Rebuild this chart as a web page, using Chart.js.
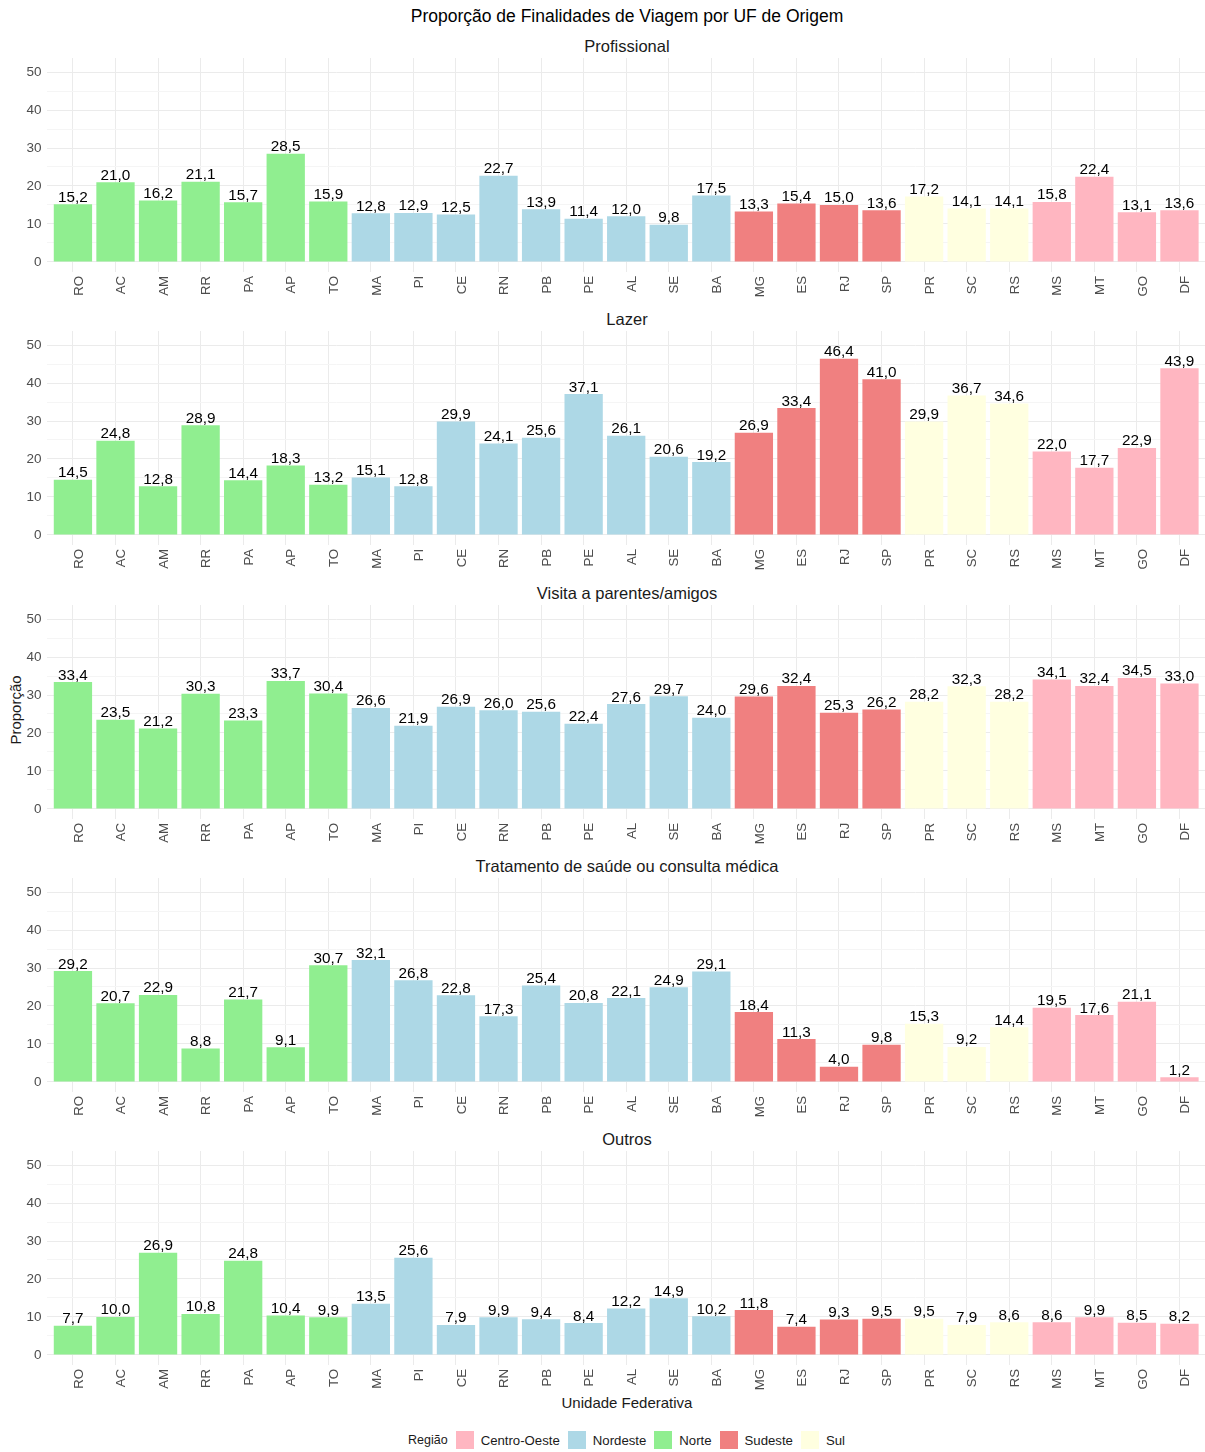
<!DOCTYPE html>
<html>
<head>
<meta charset="utf-8">
<script src="https://cdn.jsdelivr.net/npm/chart.js@4"></script>
<style>
  body { margin: 0; background: #fff; font-family: "Liberation Sans", Arial, sans-serif; }
  #page { position: relative; width: 1205px; height: 1452px; overflow: hidden; }
  .panel { position: absolute; left: 0; width: 1205px; height: 273px; }
  .txt { position: absolute; white-space: nowrap; color: #1a1a1a; }
  .center { transform: translate(-50%, -50%); }
  #legend { position: absolute; top: 1431px; left: 408px; display: flex; align-items: center; font-size: 13.2px; color: #1a1a1a; }
  #legend .key { width: 18px; height: 18px; margin: 0 7px 0 8px; }
</style>
</head>
<body>
<div id="page">
  <div class="txt center" style="left:627px;top:16px;font-size:17.5px;color:#000">Proporção de Finalidades de Viagem por UF de Origem</div>
  <div class="txt center" style="left:15px;top:710px;font-size:15px;transform:translate(-50%,-50%) rotate(-90deg)">Proporção</div>
  <div class="txt center" style="left:627px;top:1402px;font-size:15px">Unidade Federativa</div>
  <div id="legend"></div>
</div>
<script>
const ufs = ["RO", "AC", "AM", "RR", "PA", "AP", "TO", "MA", "PI", "CE", "RN", "PB", "PE", "AL", "SE", "BA",
             "MG", "ES", "RJ", "SP", "PR", "SC", "RS", "MS", "MT", "GO", "DF"];
const regiaoUf = ["Norte", "Norte", "Norte", "Norte", "Norte", "Norte", "Norte",
                  "Nordeste", "Nordeste", "Nordeste", "Nordeste", "Nordeste", "Nordeste", "Nordeste", "Nordeste", "Nordeste",
                  "Sudeste", "Sudeste", "Sudeste", "Sudeste",
                  "Sul", "Sul", "Sul",
                  "Centro-Oeste", "Centro-Oeste", "Centro-Oeste", "Centro-Oeste"];
const regioes = ["Centro-Oeste", "Nordeste", "Norte", "Sudeste", "Sul"];
const regiaoCores = ["#FFB6C1", "#ADD8E6", "#90EE90", "#F08080", "#FFFFE0"];

const finalidades = ["Profissional", "Lazer", "Visita a parentes/amigos", "Tratamento de saúde ou consulta médica", "Outros"];

const profissional = [15.2, 21.0, 16.2, 21.1, 15.7, 28.5, 15.9, 12.8, 12.9, 12.5, 22.7, 13.9, 11.4, 12.0, 9.8, 17.5,
                      13.3, 15.4, 15.0, 13.6, 17.2, 14.1, 14.1, 15.8, 22.4, 13.1, 13.6];
const lazer = [14.5, 24.8, 12.8, 28.9, 14.4, 18.3, 13.2, 15.1, 12.8, 29.9, 24.1, 25.6, 37.1, 26.1, 20.6, 19.2,
               26.9, 33.4, 46.4, 41.0, 29.9, 36.7, 34.6, 22.0, 17.7, 22.9, 43.9];
const visita = [33.4, 23.5, 21.2, 30.3, 23.3, 33.7, 30.4, 26.6, 21.9, 26.9, 26.0, 25.6, 22.4, 27.6, 29.7, 24.0,
                29.6, 32.4, 25.3, 26.2, 28.2, 32.3, 28.2, 34.1, 32.4, 34.5, 33.0];
const tratamento = [29.2, 20.7, 22.9, 8.8, 21.7, 9.1, 30.7, 32.1, 26.8, 22.8, 17.3, 25.4, 20.8, 22.1, 24.9, 29.1,
                    18.4, 11.3, 4.0, 9.8, 15.3, 9.2, 14.4, 19.5, 17.6, 21.1, 1.2];
const outros = [7.7, 10.0, 26.9, 10.8, 24.8, 10.4, 9.9, 13.5, 25.6, 7.9, 9.9, 9.4, 8.4, 12.2, 14.9, 10.2,
                11.8, 7.4, 9.3, 9.5, 9.5, 7.9, 8.6, 8.6, 9.9, 8.5, 8.2];
const series = [profissional, lazer, visita, tratamento, outros];

const yTicks = [0, 5, 10, 15, 20, 25, 30, 35, 40, 45, 50];

const FONT = '"Liberation Sans", Arial, sans-serif';
const PANEL_STEP = 273.3;

// value labels above the bars, decimal comma
const valueLabels = {
  id: "valueLabels",
  afterDatasetsDraw(chart) {
    const ctx = chart.ctx;
    const meta = chart.getDatasetMeta(0);
    ctx.save();
    ctx.font = "15.3px " + FONT;
    ctx.fillStyle = "#000";
    ctx.textAlign = "center";
    ctx.textBaseline = "alphabetic";
    meta.data.forEach((bar, i) => {
      const v = chart.data.datasets[0].data[i].y;
      ctx.fillText(v.toFixed(1).replace(".", ","), bar.x, bar.y - 2.5);
    });
    ctx.restore();
  }
};

const page = document.getElementById("page");

series.forEach((vals, p) => {
  const top = 30 + p * PANEL_STEP;

  const title = document.createElement("div");
  title.className = "txt center";
  title.style.left = "627px";
  title.style.top = (46 + p * PANEL_STEP) + "px";
  title.style.fontSize = "16.5px";
  title.textContent = finalidades[p];
  page.appendChild(title);

  const box = document.createElement("div");
  box.className = "panel";
  box.style.top = top + "px";
  const canvas = document.createElement("canvas");
  box.appendChild(canvas);
  page.appendChild(box);

  new Chart(canvas, {
    type: "bar",
    data: {
      datasets: [{
        data: ufs.map((u, i) => ({ x: i + 1, y: vals[i] })),
        backgroundColor: regiaoUf.map(r => regiaoCores[regioes.indexOf(r)]),
        barPercentage: 0.9,
        categoryPercentage: 1.0
      }]
    },
    options: {
      responsive: true,
      maintainAspectRatio: false,
      animation: false,
      layout: { padding: { top: 28, bottom: 0, left: 0, right: 0 } },
      plugins: { legend: { display: false }, tooltip: { enabled: false } },
      scales: {
        x: {
          type: "linear",
          offset: false,
          min: 0.4,
          max: 27.6,
          afterBuildTicks: s => { s.ticks = ufs.map((u, i) => ({ value: i + 1 })); },
          afterFit: s => { s.height = 31.2; },
          grid: { offset: false, color: "#ebebeb", lineWidth: 1, drawTicks: false },
          border: { display: false },
          ticks: {
            autoSkip: false,
            minRotation: 90,
            maxRotation: 90,
            padding: 4,
            labelOffset: 6,
            color: "#4d4d4d",
            font: { size: 13.3, family: FONT },
            callback: v => ufs[v - 1]
          }
        },
        y: {
          min: -2.6,
          max: 53.7,
          afterBuildTicks: s => { s.ticks = yTicks.map(v => ({ value: v })); },
          afterFit: s => { s.width = 47.4; },
          grid: {
            color: c => (c.tick && c.tick.value % 10 === 0) ? "#ebebeb" : "#f5f5f5",
            lineWidth: 1,
            drawTicks: false
          },
          border: { display: false },
          ticks: {
            padding: 6,
            color: "#4d4d4d",
            font: { size: 13.5, family: FONT },
            callback: v => (v % 10 === 0 ? String(v) : "")
          }
        }
      }
    },
    plugins: [valueLabels]
  });
});

// legend
const legend = document.getElementById("legend");
const head = document.createElement("span");
head.textContent = "Região";
head.style.fontSize = "12.5px";
legend.appendChild(head);
regioes.forEach((r, i) => {
  const k = document.createElement("span");
  k.className = "key";
  k.style.background = regiaoCores[i];
  legend.appendChild(k);
  const t = document.createElement("span");
  t.textContent = r;
  legend.appendChild(t);
});
</script>
</body>
</html>
